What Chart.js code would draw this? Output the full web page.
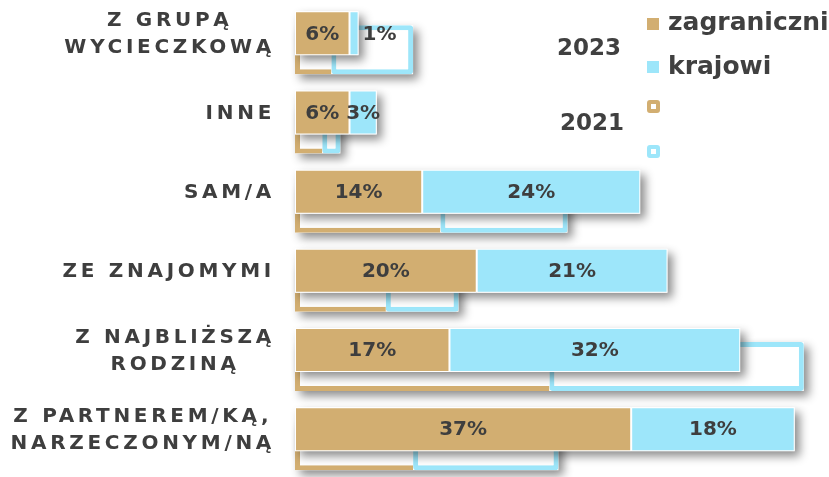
<!DOCTYPE html>
<html lang="pl">
<head>
<meta charset="utf-8">
<title>Z kim podróżujesz</title>
<script src="https://cdn.jsdelivr.net/npm/chart.js@4/dist/chart.umd.min.js"></script>
<style>
  html, body { margin: 0; padding: 0; background: #fff; }
  .wrap { position: relative; width: 829px; height: 477px; overflow: hidden; }
  .legend-text { position: absolute; font-family: 'DejaVu Sans', sans-serif; font-weight: bold; color: #404040; line-height: 1; white-space: nowrap; }
  .year { font-size: 23px; }
  .series { font-size: 25px; }
  .swatch { position: absolute; box-sizing: border-box; }
</style>
</head>
<body>
<div class="wrap">
  <canvas id="chart" width="829" height="477"></canvas>
  <div id="legend"></div>
</div>
<script>
const categories = [['Z GRUPĄ', 'WYCIECZKOWĄ'], 'INNE', 'SAM/A', 'ZE ZNAJOMYMI', ['Z NAJBLIŻSZĄ', 'RODZINĄ'], ['Z PARTNEREM/KĄ,', 'NARZECZONYM/NĄ']]
const years = ['2023', '2021']
const seriesNames = ['zagraniczni', 'krajowi']
const foreign2023 = [6, 6, 14, 20, 17, 37]
const domestic2023 = [1, 3, 24, 21, 32, 18]
const foreign2021 = [4, 3, 16, 10, 28, 13]
const domestic2021 = [9, 2, 14, 8, 28, 16]

const tan = '#D2AE71'
const sky = '#9DE6FA'
const ink = '#3E3E3E'
const fontFamily = "'DejaVu Sans', sans-serif"

// shadows are painted once per stack, so the segments of one bar share a single shadow
const barShadows = {
  id: 'barShadows',
  beforeDatasetsDraw(chart) {
    chart.$shadowed = new Set()
  },
  beforeDatasetDraw(chart, { meta }) {
    if (chart.$shadowed.has(meta.stack)) return
    chart.$shadowed.add(meta.stack)
    const { ctx } = chart
    ctx.save()
    ctx.shadowColor = 'rgba(0, 0, 0, 0.45)'
    ctx.shadowBlur = 10
    ctx.shadowOffsetX = 5
    ctx.shadowOffsetY = 5
    ctx.fillStyle = '#fff'
    ctx.beginPath()
    chart.getSortedVisibleDatasetMetas()
      .filter((m) => m.stack === meta.stack)
      .forEach((m) => {
        m.data.forEach((bar) => {
          const { x, y, base, height } = bar.getProps(['x', 'y', 'base', 'height'], true)
          ctx.rect(Math.min(x, base), y - height / 2, Math.abs(x - base), height)
        })
      })
    ctx.fill()
    ctx.restore()
  },
}

const valueLabels = {
  id: 'valueLabels',
  afterDatasetsDraw(chart) {
    const { ctx } = chart
    ctx.save()
    ctx.font = `bold 20px ${fontFamily}`
    ctx.fillStyle = ink
    ctx.textAlign = 'center'
    ctx.textBaseline = 'middle'
    chart.data.datasets.forEach((ds, i) => {
      if (ds.stack !== years[0]) return
      chart.getDatasetMeta(i).data.forEach((bar, j) => {
        const text = `${ds.data[j]}%`
        const w = ctx.measureText(text).width
        const left = Math.min(bar.x, bar.base)
        const width = Math.abs(bar.x - bar.base)
        let cx = left + width / 2
        if (w > width * 2) cx = left + width + 4 + w / 2
        ctx.fillText(text, cx, bar.y + 1)
      })
    })
    ctx.restore()
  },
}

// category names: block right aligned, lines centred on each other, letter spaced
const categoryLabels = {
  id: 'categoryLabels',
  afterDatasetsDraw(chart) {
    const { ctx } = chart
    const bars = chart.getDatasetMeta(0).data
    const right = chart.chartArea.left - 20
    const lineHeight = 27
    ctx.save()
    ctx.font = `bold 20px ${fontFamily}`
    ctx.letterSpacing = '3.7px'
    ctx.fillStyle = ink
    ctx.textAlign = 'center'
    ctx.textBaseline = 'middle'
    chart.data.labels.forEach((label, i) => {
      const lines = [].concat(label)
      const block = Math.max(...lines.map((l) => ctx.measureText(l).width))
      const top = bars[i].y - ((lines.length - 1) * lineHeight) / 2
      lines.forEach((l, k) => ctx.fillText(l, right - block / 2, top + k * lineHeight + 1))
    })
    ctx.restore()
  },
}

const solid = { borderColor: '#fff', borderWidth: 1, borderSkipped: false, barPercentage: 2.67, order: 0 }
const outline = { backgroundColor: '#fff', borderWidth: 5, borderRadius: 3, barPercentage: 2.97, order: 1 }

const datasets = [
  { ...solid, label: seriesNames[0], stack: years[0], data: foreign2023, backgroundColor: tan },
  { ...solid, label: seriesNames[1], stack: years[0], data: domestic2023, backgroundColor: sky },
  { ...outline, label: seriesNames[0], stack: years[1], data: foreign2021, borderColor: tan, borderSkipped: 'end' },
  { ...outline, label: seriesNames[1], stack: years[1], data: domestic2021, borderColor: sky, borderSkipped: false },
]

const chart = new Chart(document.getElementById('chart'), {
  type: 'bar',
  data: { labels: categories, datasets },
  options: {
    indexAxis: 'y',
    responsive: false,
    animation: false,
    categoryPercentage: 0.417,
    layout: { padding: { left: 295, right: 7, top: 2, bottom: 0 } },
    scales: {
      x: { display: false, stacked: true, min: 0, max: 58 },
      y: { display: false, stacked: true },
    },
    plugins: {
      legend: { display: false },
      tooltip: { enabled: false },
    },
  },
  plugins: [barShadows, valueLabels, categoryLabels],
})

// legend: year on the left, one swatch per series of that year
const legend = document.getElementById('legend')
const place = (el, left, top) => {
  el.style.left = `${left}px`
  el.style.top = `${top}px`
  legend.appendChild(el)
}
const yearSpots = [{ left: 557, top: 36 }, { left: 560, top: 111 }]
const swatchTops = [[18, 61], [100, 145]]
const textTops = [9, 53]
years.forEach((year, y) => {
  const yearEl = document.createElement('div')
  yearEl.className = 'legend-text year'
  yearEl.textContent = year
  place(yearEl, yearSpots[y].left, yearSpots[y].top)
  chart.data.datasets.filter((ds) => ds.stack === year).forEach((ds, s) => {
    const sw = document.createElement('div')
    sw.className = 'swatch'
    if (y === 0) {
      sw.style.width = '12px'
      sw.style.height = '12px'
      sw.style.background = ds.backgroundColor
    } else {
      sw.style.width = '13px'
      sw.style.height = '13px'
      sw.style.background = '#fff'
      sw.style.border = `4px solid ${ds.borderColor}`
      sw.style.borderRadius = '3px'
    }
    place(sw, 647, swatchTops[y][s])
    if (y === 0) {
      const txt = document.createElement('div')
      txt.className = 'legend-text series'
      txt.textContent = ds.label
      place(txt, 668, textTops[s])
    }
  })
})
</script>
</body>
</html>
